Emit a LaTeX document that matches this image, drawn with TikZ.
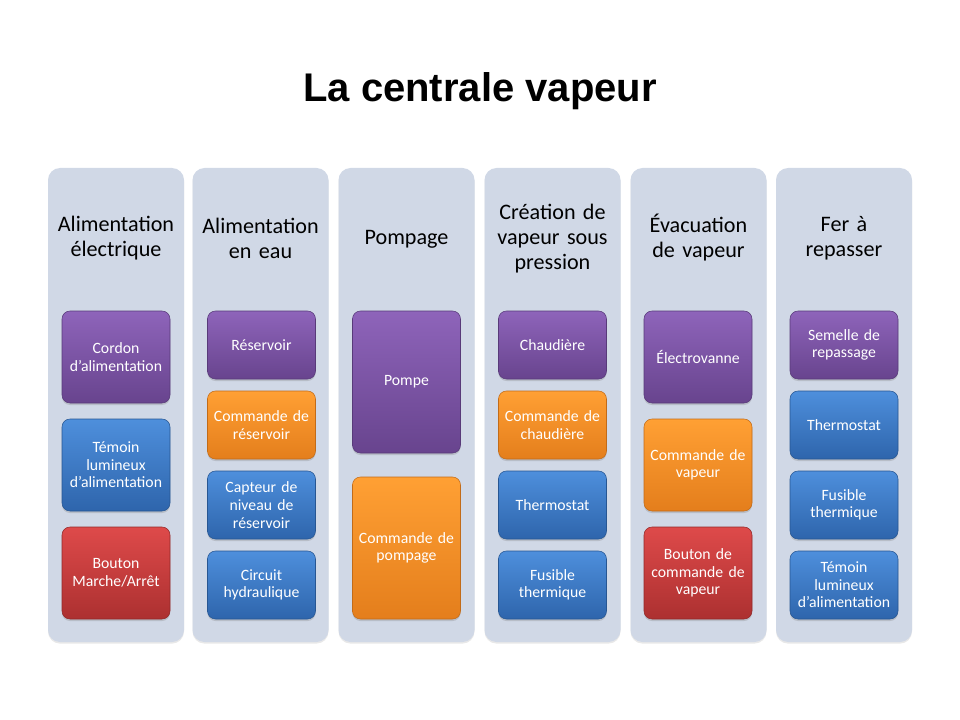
\documentclass[tikz,border=0pt]{standalone}
\usepackage{fontspec}
\setmainfont{Carlito}
\newfontfamily\titlefont{Liberation Sans}
\usepackage{tikz}
\usetikzlibrary{shadows}

\definecolor{colbg}{RGB}{208,216,230}
\definecolor{purtop}{RGB}{142,100,186}
\definecolor{purbot}{RGB}{104,68,142}
\definecolor{orgtop}{RGB}{255,160,52}
\definecolor{orgbot}{RGB}{228,126,28}
\definecolor{blutop}{RGB}{78,143,220}
\definecolor{blubot}{RGB}{46,101,172}
\definecolor{redtop}{RGB}{222,74,74}
\definecolor{redbot}{RGB}{172,48,48}

\tikzset{
  column/.style={fill=colbg,rounded corners=9pt,minimum width=102pt,minimum height=355.5pt,
    drop shadow={opacity=0.18,shadow xshift=0pt,shadow yshift=-1.2pt}},
  heading/.style={font=\fontsize{16.6}{18.75}\selectfont,text width=100pt,align=center},
  box/.style={rounded corners=6pt,minimum width=81pt,text width=78pt,inner xsep=1.5pt,align=center,text=white,
    font=\fontsize{11.8}{13.2}\selectfont,
    drop shadow={opacity=0.3,shadow xshift=0pt,shadow yshift=-1.5pt}},
  purbox/.style={box,top color=purtop,bottom color=purbot,draw=purbot!85!black,line width=0.4pt},
  orgbox/.style={box,top color=orgtop,bottom color=orgbot,draw=orgbot!85!black,line width=0.4pt},
  blubox/.style={box,top color=blutop,bottom color=blubot,draw=blubot!85!black,line width=0.4pt},
  redbox/.style={box,top color=redtop,bottom color=redbot,draw=redbot!85!black,line width=0.4pt},
  tall/.style={minimum height=69pt},
  mid/.style={minimum height=51pt},
  big/.style={minimum height=106.5pt}
}

\begin{document}
\begin{tikzpicture}[x=0.75pt,y=-0.75pt]
\useasboundingbox (0,0) rectangle (960,720);
% --- title
\node[font=\titlefont\bfseries\fontsize{30}{36}\selectfont] (title) at (480,91) {La centrale vapeur};
% --- columns
\foreach \n/\x in {1/116,2/260.5,3/406.5,4/552.5,5/698.5,6/844}
  \node[column] (col\n) at (\x,405) {};
% headings
\node[heading] (head1) at (116,238) {Alimentation\\ électrique};
\node[heading] (head2) at (260.5,238) {Alimentation\\ en eau};
\node[heading] (head3) at (406.5,239) {Pompage};
\node[heading] (head4) at (552.5,239) {Création de\\ vapeur sous\\ pression};
\node[heading] (head5) at (698.5,238) {Évacuation\\ de vapeur};
\node[heading] (head6) at (844,238) {Fer à\\ repasser};
% --- column 1
\node[purbox,tall] (cordon) at (116,357) {Cordon\\ d’alimentation};
\node[blubox,tall] (temoin1) at (116,465) {Témoin\\ lumineux\\ d’alimentation};
\node[redbox,tall] (bouton1) at (116,573) {Bouton\\ Marche/Arrêt};
% --- column 2
\node[purbox,mid] (reservoir) at (261.5,345) {Réservoir};
\node[orgbox,mid] (cmdres) at (261.5,425) {Commande de\\ réservoir};
\node[blubox,mid] (capteur) at (261.5,505) {Capteur de\\ niveau de\\ réservoir};
\node[blubox,mid] (circuit) at (261.5,585) {Circuit\\ hydraulique};
% --- column 3
\node[purbox,big] (pompe) at (406.5,382) {Pompe};
\node[orgbox,big] (cmdpomp) at (406.5,548) {Commande de\\ pompage};
% --- column 4
\node[purbox,mid] (chaudiere) at (552.5,345) {Chaudière};
\node[orgbox,mid] (cmdchaud) at (552.5,425) {Commande de\\ chaudière};
\node[blubox,mid] (thermo1) at (552.5,505) {Thermostat};
\node[blubox,mid] (fusible1) at (552.5,585) {Fusible\\ thermique};
% --- column 5
\node[purbox,tall] (electrovanne) at (698,357) {Électrovanne};
\node[orgbox,tall] (cmdvap) at (698,465) {Commande de\\ vapeur};
\node[redbox,tall] (bouton2) at (698,573) {Bouton de\\ commande de\\ vapeur};
% --- column 6
\node[purbox,mid] (semelle) at (844,345) {Semelle de\\ repassage};
\node[blubox,mid] (thermo2) at (844,425) {Thermostat};
\node[blubox,mid] (fusible2) at (844,505) {Fusible\\ thermique};
\node[blubox,mid] (temoin2) at (844,585) {Témoin\\ lumineux\\ d’alimentation};
\end{tikzpicture}
\end{document}
